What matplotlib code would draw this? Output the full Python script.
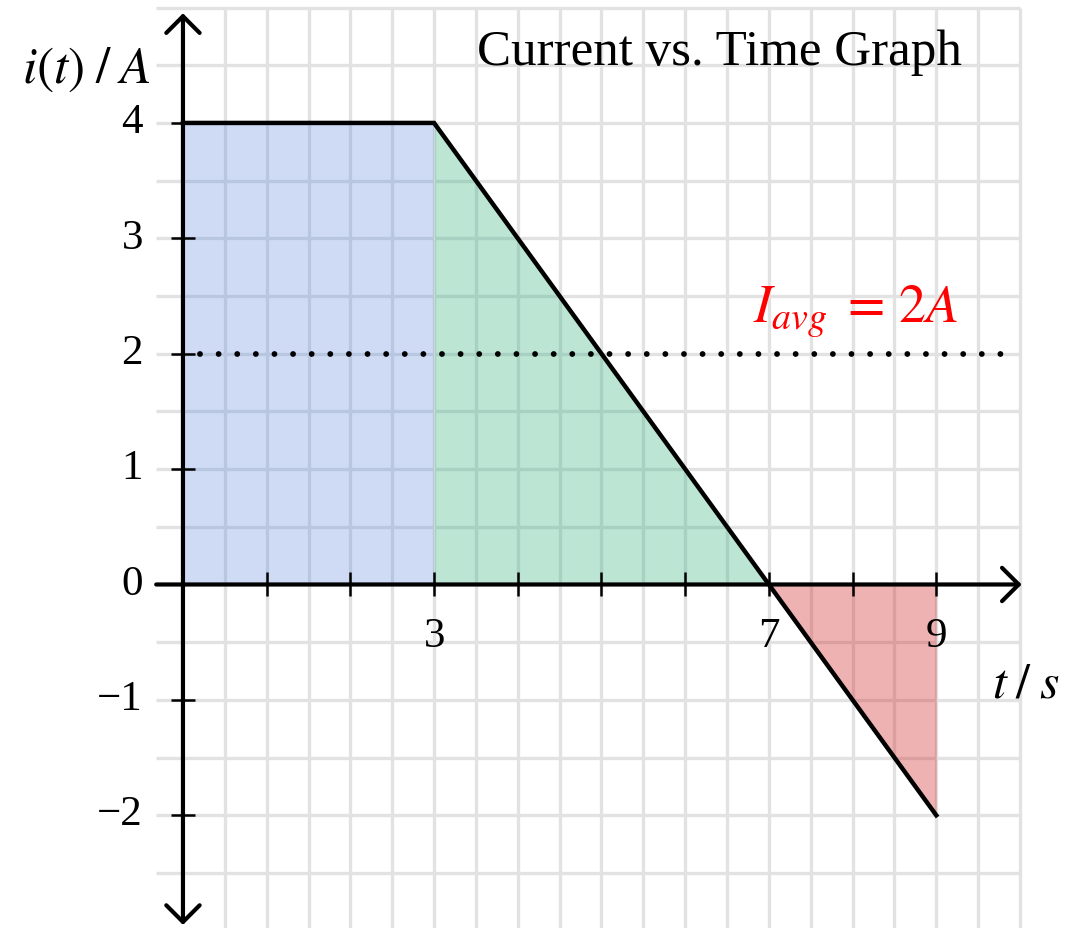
import numpy as np
import matplotlib
matplotlib.use('Agg')
from matplotlib import pyplot as plt

plt.rcParams['font.family'] = ['Liberation Serif', 'DejaVu Serif']
plt.rcParams['mathtext.fontset'] = 'stix'

# data
t_pts = [0, 3, 7, 9]
i_pts = [4, 4, 0, -2]
i_avg = 2
x_ticks = [1, 2, 3, 4, 5, 6, 7, 8, 9]
x_labels = {3: '3', 7: '7', 9: '9'}
y_ticks = [-2, -1, 1, 2, 3, 4]
y_labels = {4: '4', 3: '3', 2: '2', 1: '1', 0: '0', -1: '\u22121', -2: '\u22122'}
fill_colors = [(0.25, 0.45, 0.85), (0.24, 0.70, 0.51), (0.82, 0.12, 0.12)]
fill_alpha = [0.25, 0.34, 0.34]

fig = plt.figure(figsize=(10.65, 9.29), dpi=100)
ax = fig.add_axes([0, 0, 1, 1])
ax.axis('off')
ax.set_xlim(-2.186, 10.538)
ax.set_ylim(-2.977, 5.074)

# background grid, half-unit squares
grid_c = '#e2e2e2'
ax.hlines(np.arange(-2.5, 5.01, 0.5), -0.32, 10.0, color=grid_c, lw=2.4, zorder=0)
ax.vlines(np.arange(0.5, 10.01, 0.5), -3.1, 5.0, color=grid_c, lw=2.4, zorder=0)

# shaded areas under each piece
for k in range(3):
    ax.fill_between(t_pts[k:k + 2], i_pts[k:k + 2], 0,
                    color=fill_colors[k], alpha=fill_alpha[k], lw=0, zorder=1)

# axes with arrows
arrow_kw = dict(lw=3.0, color='black', shrinkA=0, shrinkB=0, mutation_scale=20)
ax.annotate('', xy=(10.02, 0), xytext=(-0.32, 0),
            arrowprops=dict(arrowstyle='->,head_length=0.6,head_width=0.6', **arrow_kw),
            zorder=3)
ax.annotate('', xy=(0, 4.95), xytext=(0, -2.95),
            arrowprops=dict(arrowstyle='<->,head_length=0.6,head_width=0.6', **arrow_kw),
            zorder=3)

# tick marks
ax.vlines(x_ticks, -0.104, 0.104, color='black', lw=1.8, zorder=3)
ax.hlines(y_ticks, -0.143, 0.143, color='black', lw=1.8, zorder=3)

for v, s in y_labels.items():
    ax.text(-0.48, v - 0.08, s, ha='right', va='baseline', fontsize=31)
for v, s in x_labels.items():
    ax.text(v, -0.53, s, ha='center', va='baseline', fontsize=31)

# i(t) curve
ax.plot(t_pts, i_pts, color='black', lw=3.2, solid_joinstyle='miter', zorder=4)

# average current line
ax.plot([0.2, 9.85], [i_avg, i_avg], color='black', lw=4.2,
        linestyle=(0, (0.001, 3.19)), dash_capstyle='round', zorder=4)
ax.text(6.81, 2.28, r'$I_{avg}\;=\,2A$', color='red', fontsize=39,
        ha='left', va='baseline')

ax.text(3.51, 4.51, 'Current vs. Time Graph', fontsize=36.7, ha='left', va='baseline')
ax.text(-1.92, 4.36, r'$i(t)\;/\;A$', fontsize=37, ha='left', va='baseline')
ax.text(9.67, -0.975, r'$t\;/\;s$', fontsize=36, ha='left', va='baseline')

plt.savefig('out.png', dpi=100)
